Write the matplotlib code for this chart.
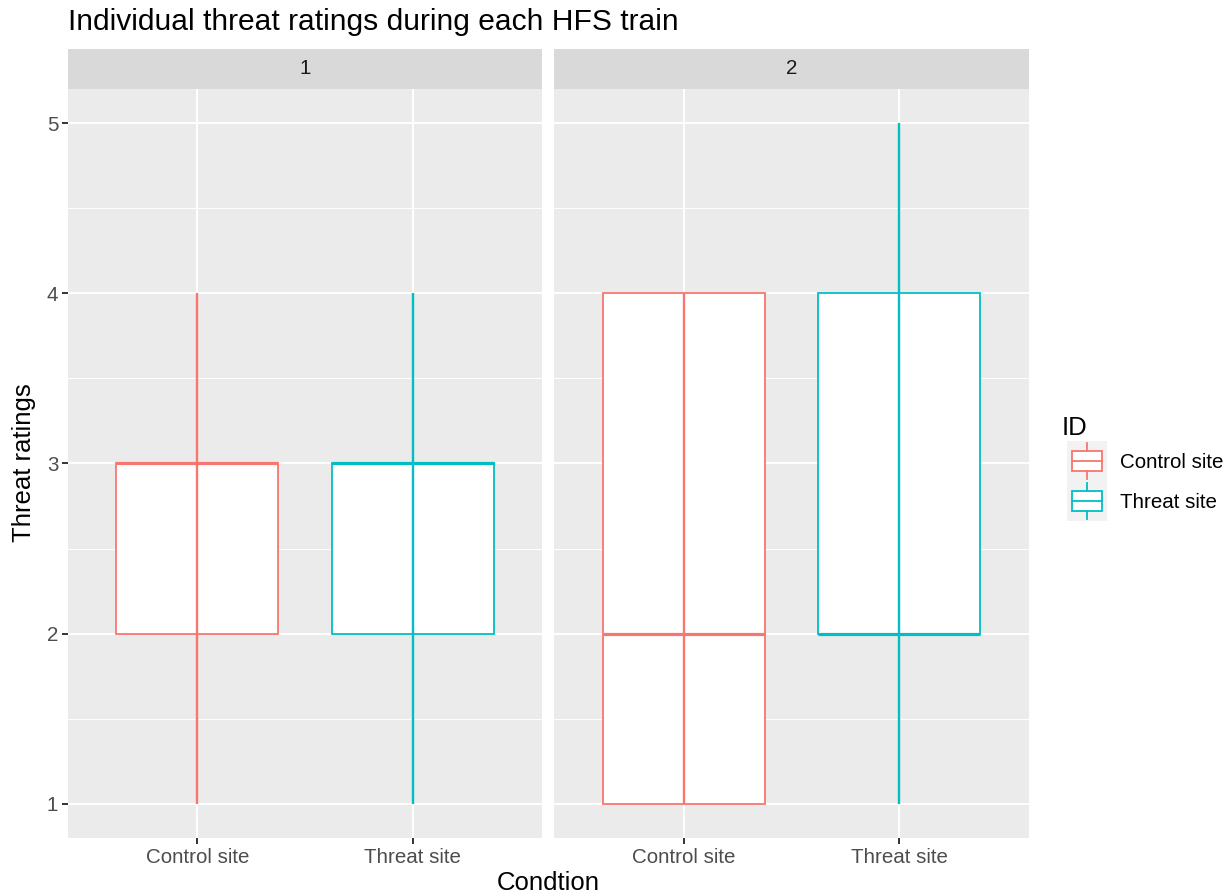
import matplotlib.pyplot as plt
from matplotlib.patches import Rectangle

plt.rcParams["font.family"] = ["Liberation Sans", "DejaVu Sans"]

# Threat ratings summary per HFS train (panel) and condition
trains = ["1", "2"]
conditions = ["Control site", "Threat site"]
r_min = [[1, 1], [1, 1]]
r_q1 = [[2, 2], [1, 2]]
r_med = [[3, 3], [2, 2]]
r_q3 = [[3, 3], [4, 4]]
r_max = [[4, 4], [4, 5]]
y_ticks = [1, 2, 3, 4, 5]

colors = ["#F8766D", "#00BFC4"]
panel_bg = "#EBEBEB"
strip_bg = "#D9D9D9"
tick_col = "#4D4D4D"

W, H = 1231, 896
fig = plt.figure(figsize=(W / 100, H / 100), dpi=100)


def fx(px):
    return px / W


def fy(py):
    return 1 - py / H


panels = [(68, 542), (554, 1029)]
top, bottom = 89, 838
strip_top = 49
box_w = 0.75

for p, (x0, x1) in enumerate(panels):
    ax = fig.add_axes([fx(x0), fy(bottom), fx(x1 - x0), fy(top) - fy(bottom)])
    ax.set_facecolor(panel_bg)
    ax.set_xlim(0.4, 2.6)
    ax.set_ylim(0.8, 5.2)
    for s in ax.spines.values():
        s.set_visible(False)
    # grid
    for y in [1.5, 2.5, 3.5, 4.5]:
        ax.axhline(y, color="white", lw=0.7, zorder=0)
    for y in y_ticks:
        ax.axhline(y, color="white", lw=1.4, zorder=0)
    for i in range(len(conditions)):
        ax.axvline(i + 1, color="white", lw=1.4, zorder=0)

    for i, cond in enumerate(conditions):
        x = i + 1
        c = colors[i]
        ax.add_patch(Rectangle((x - box_w / 2, r_q1[p][i]), box_w,
                               r_q3[p][i] - r_q1[p][i], facecolor="white",
                               edgecolor=c, lw=1.3, zorder=2))
        ax.plot([x - box_w / 2, x + box_w / 2], [r_med[p][i]] * 2,
                color=c, lw=2.3, zorder=3, solid_capstyle="butt")
        ax.plot([x, x], [r_min[p][i], r_max[p][i]], color=c, lw=1.7,
                zorder=4, solid_capstyle="butt")

    ax.set_xticks([1, 2])
    ax.set_xticklabels(conditions, fontsize=14.8, color=tick_col)
    ax.tick_params(axis="x", length=4, width=1.4, color="#333333", pad=3)
    if p == 0:
        ax.set_yticks(y_ticks)
        ax.set_yticklabels([str(v) for v in y_ticks], fontsize=14.8,
                           color=tick_col)
        ax.tick_params(axis="y", length=4, width=1.4, color="#333333", pad=3)
    else:
        ax.set_yticks([])

    # facet strip
    sax = fig.add_axes([fx(x0), fy(top), fx(x1 - x0), fy(strip_top) - fy(top)])
    sax.set_facecolor(strip_bg)
    sax.set_xticks([])
    sax.set_yticks([])
    for s in sax.spines.values():
        s.set_visible(False)
    sax.text(0.5, 0.5, trains[p], ha="center", va="center", fontsize=14.8,
             color="#1A1A1A", transform=sax.transAxes)

fig.text(fx(68), fy(22), "Individual threat ratings during each HFS train",
         fontsize=21.6, ha="left", va="center", color="black")
fig.text(fx(548), fy(883), "Condtion", fontsize=18.5, ha="center",
         va="center")
fig.text(fx(24), fy(463), "Threat ratings", fontsize=18.5, ha="center",
         va="center", rotation=90)

# legend
fig.text(fx(1062), fy(428), "ID", fontsize=18.5, ha="left", va="center")
key_x0, key_x1 = 1067, 1107
key_tops = [441, 481]
for k, label in enumerate(conditions):
    kt = key_tops[k]
    kax = fig.add_axes([fx(key_x0), fy(kt + 40), fx(key_x1 - key_x0),
                        fy(kt) - fy(kt + 40)])
    kax.set_facecolor("#F2F2F2")
    kax.set_xlim(0, 1)
    kax.set_ylim(0, 1)
    kax.set_xticks([])
    kax.set_yticks([])
    for s in kax.spines.values():
        s.set_visible(False)
    c = colors[k]
    kax.plot([0.5, 0.5], [0.05, 0.25], color=c, lw=1.3)
    kax.plot([0.5, 0.5], [0.75, 0.95], color=c, lw=1.3)
    kax.add_patch(Rectangle((0.12, 0.25), 0.76, 0.5, facecolor="white",
                            edgecolor=c, lw=1.3))
    kax.plot([0.12, 0.88], [0.5, 0.5], color=c, lw=1.3)
    fig.text(fx(1120), fy(kt + 21), label, fontsize=14.8, ha="left",
             va="center")

fig.savefig("out.png", dpi=100, facecolor="white")
